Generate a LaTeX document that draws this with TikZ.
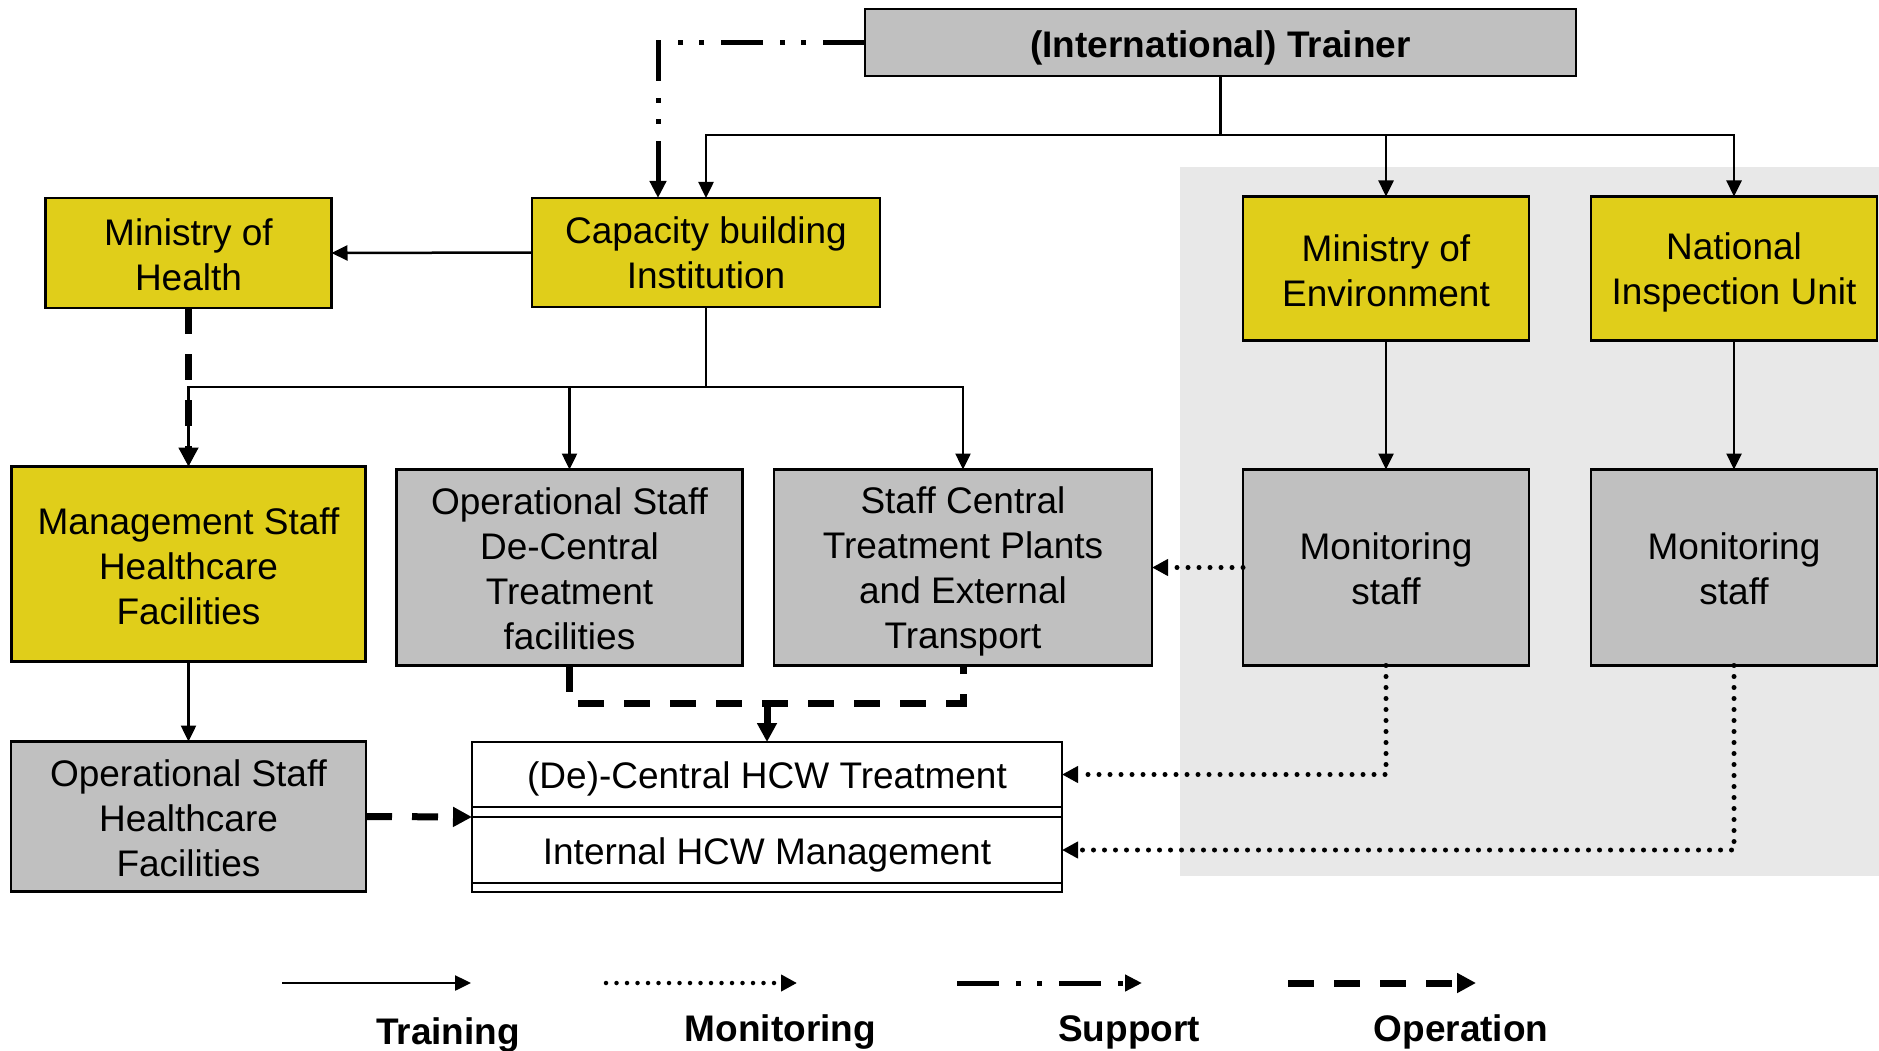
\documentclass[tikz,border=0pt]{standalone}
\usepackage{fontspec}
\setmainfont{Liberation Sans}
\usetikzlibrary{arrows.meta}
\definecolor{boxyellow}{RGB}{224,206,26}
\definecolor{boxgray}{RGB}{192,192,192}
\definecolor{bggray}{RGB}{232,232,232}
\tikzset{
  box/.style={draw=black, line width=2.5pt, rectangle, inner sep=0pt, outer sep=0pt},
  ybox/.style={box, fill=boxyellow},
  gbox/.style={box, fill=boxgray},
  wbox/.style={box, fill=white},
  boxtext/.style={inner sep=0pt, align=center, font=\fontsize{37}{45}\selectfont},
  train/.style={line width=2.5pt, -{Triangle[length=16pt,width=15pt]}},
  monit/.style={line width=5pt, line cap=round, dash pattern=on 0pt off 11pt, -{Triangle[length=16pt,width=16pt]}},
  supp/.style={line width=5pt, dash pattern=on 42pt off 17pt on 5pt off 16pt on 5pt off 17pt, -{Triangle[length=17pt,width=16pt]}},
  oper/.style={line width=7pt, dash pattern=on 26pt off 20pt, -{Triangle[length=19pt,width=19pt]}},
  operline/.style={line width=7pt, dash pattern=on 26pt off 20pt},
  legtext/.style={font=\bfseries\fontsize{37}{45}\selectfont, anchor=base, inner sep=0pt},
}
\begin{document}
\begin{tikzpicture}[x=1pt,y=-1pt]
\useasboundingbox (0,0) rectangle (1879,1051);
% grey background area
\fill[bggray] (1180,167) rectangle (1879,876);

% boxes
\node[gbox, minimum width=711pt, minimum height=67pt] (trainer) at (1220.5,42.5) {};
\node[ybox, minimum width=286pt, minimum height=110pt] (moh) at (188.5,253) {};
\node[ybox, minimum width=348pt, minimum height=109pt] (cap) at (706,252.5) {};
\node[ybox, minimum width=286pt, minimum height=144pt] (moe) at (1386,268.5) {};
\node[ybox, minimum width=286pt, minimum height=144pt] (niu) at (1734,268.5) {};
\node[ybox, minimum width=354pt, minimum height=195pt] (mgmt) at (188.5,564) {};
\node[gbox, minimum width=346pt, minimum height=196pt] (opdc) at (569.5,567.5) {};
\node[gbox, minimum width=378pt, minimum height=196pt] (scen) at (963,567.5) {};
\node[gbox, minimum width=286pt, minimum height=196pt] (mon1) at (1386,567.5) {};
\node[gbox, minimum width=286pt, minimum height=196pt] (mon2) at (1734,567.5) {};
\node[gbox, minimum width=355pt, minimum height=150pt] (ophc) at (188.5,816.5) {};
% bottom double box
\node[wbox, minimum width=590pt, minimum height=150pt] (frame) at (767,817) {};
\node[box, minimum width=590pt, minimum height=65pt] (treat) at (767,774.5) {};
\node[box, minimum width=590pt, minimum height=66pt] (intl) at (767,850) {};

% box texts
\node[boxtext, font=\bfseries\fontsize{37}{45}\selectfont] (trainerT) at ([yshift=-5pt]trainer.center) {(International) Trainer};
\node[boxtext] (mohT) at ([yshift=-1.5pt]moh.center) {Ministry of\\Health};
\node[boxtext] (capT) at ([yshift=0pt]cap.center) {Capacity building\\Institution};
\node[boxtext] (moeT) at ([yshift=-2pt]moe.center) {Ministry of\\Environment};
\node[boxtext] (niuT) at ([yshift=-4pt]niu.center) {National\\Inspection Unit};
\node[boxtext] (mgmtT) at ([yshift=-2pt]mgmt.center) {Management Staff\\Healthcare\\Facilities};
\node[boxtext] (opdcT) at ([yshift=-1pt]opdc.center) {Operational Staff\\De-Central\\Treatment\\facilities};
\node[boxtext] (scenT) at ([yshift=-4pt]scen.center) {Staff Central\\Treatment Plants\\and External\\Transport};
\node[boxtext] (mon1T) at ([yshift=-1.5pt]mon1.center) {Monitoring\\staff};
\node[boxtext] (mon2T) at ([yshift=-1.5pt]mon2.center) {Monitoring\\staff};
\node[boxtext] (ophcT) at ([yshift=-1.5pt]ophc.center) {Operational Staff\\Healthcare\\Facilities};
\node[boxtext] (treatT) at ([yshift=-4pt]treat.center) {(De)-Central HCW Treatment};
\node[boxtext] (intlT) at ([yshift=-4.5pt]intl.center) {Internal HCW Management};

% junction coordinates
\coordinate (tj) at (1220.5,135);
\coordinate (supc) at (658,42.5);
\coordinate (cj) at (706,387);
\coordinate (oj) at (767,703);

% training
\draw[train] (trainer.south) -- (tj) -| (cap.north);
\draw[train] (tj) -| (moe.north);
\draw[train] (tj) -| (niu.north);
\draw[train] (cap.west) -- (moh.east);
\draw[train] (cap.south) -- (cj) -| (mgmt.north);
\draw[train] (cj) -| (opdc.north);
\draw[train] (cj) -| (scen.north);
\draw[train] (moe.south) -- (mon1.north);
\draw[train] (niu.south) -- (mon2.north);
\draw[train] (mgmt.south) -- (ophc.north);

% support
\draw[supp] (trainer.west) -- (supc) -- (supc |- cap.north);

% operation
\draw[oper] (moh.south) -- (mgmt.north);
\draw[operline] (opdc.south) -- (opdc.south |- oj) -- (scen.south |- oj) -- (scen.south);
\draw[oper] (oj) -- (frame.north);
\draw[oper] (ophc.east) -- (frame.west);

% monitoring
\draw[monit] (mon1.west) -- (scen.east);
\draw[monit] (mon1.south) |- (treat.east);
\draw[monit] (mon2.south) |- (intl.east);

% legend
\coordinate (lta) at (282,983); \coordinate (ltb) at (471,983);
\coordinate (lma) at (606,983); \coordinate (lmb) at (797,983);
\coordinate (lsa) at (957,983); \coordinate (lsb) at (1142,983);
\coordinate (loa) at (1288,983); \coordinate (lob) at (1476,983);
\draw[train] (lta) -- (ltb);
\draw[monit, line width=4.5pt, dash pattern=on 0pt off 10.5pt] (lma) -- (lmb);
\draw[supp] (lsa) -- (lsb);
\draw[oper] (loa) -- (lob);
\node[legtext] (lt) at (448,1044) {Training};
\node[legtext] (lm) at (780.5,1041.5) {Monitoring};
\node[legtext] (ls) at (1129,1041.5) {Support};
\node[legtext] (lo) at (1461,1041.5) {Operation};
\end{tikzpicture}
\end{document}
